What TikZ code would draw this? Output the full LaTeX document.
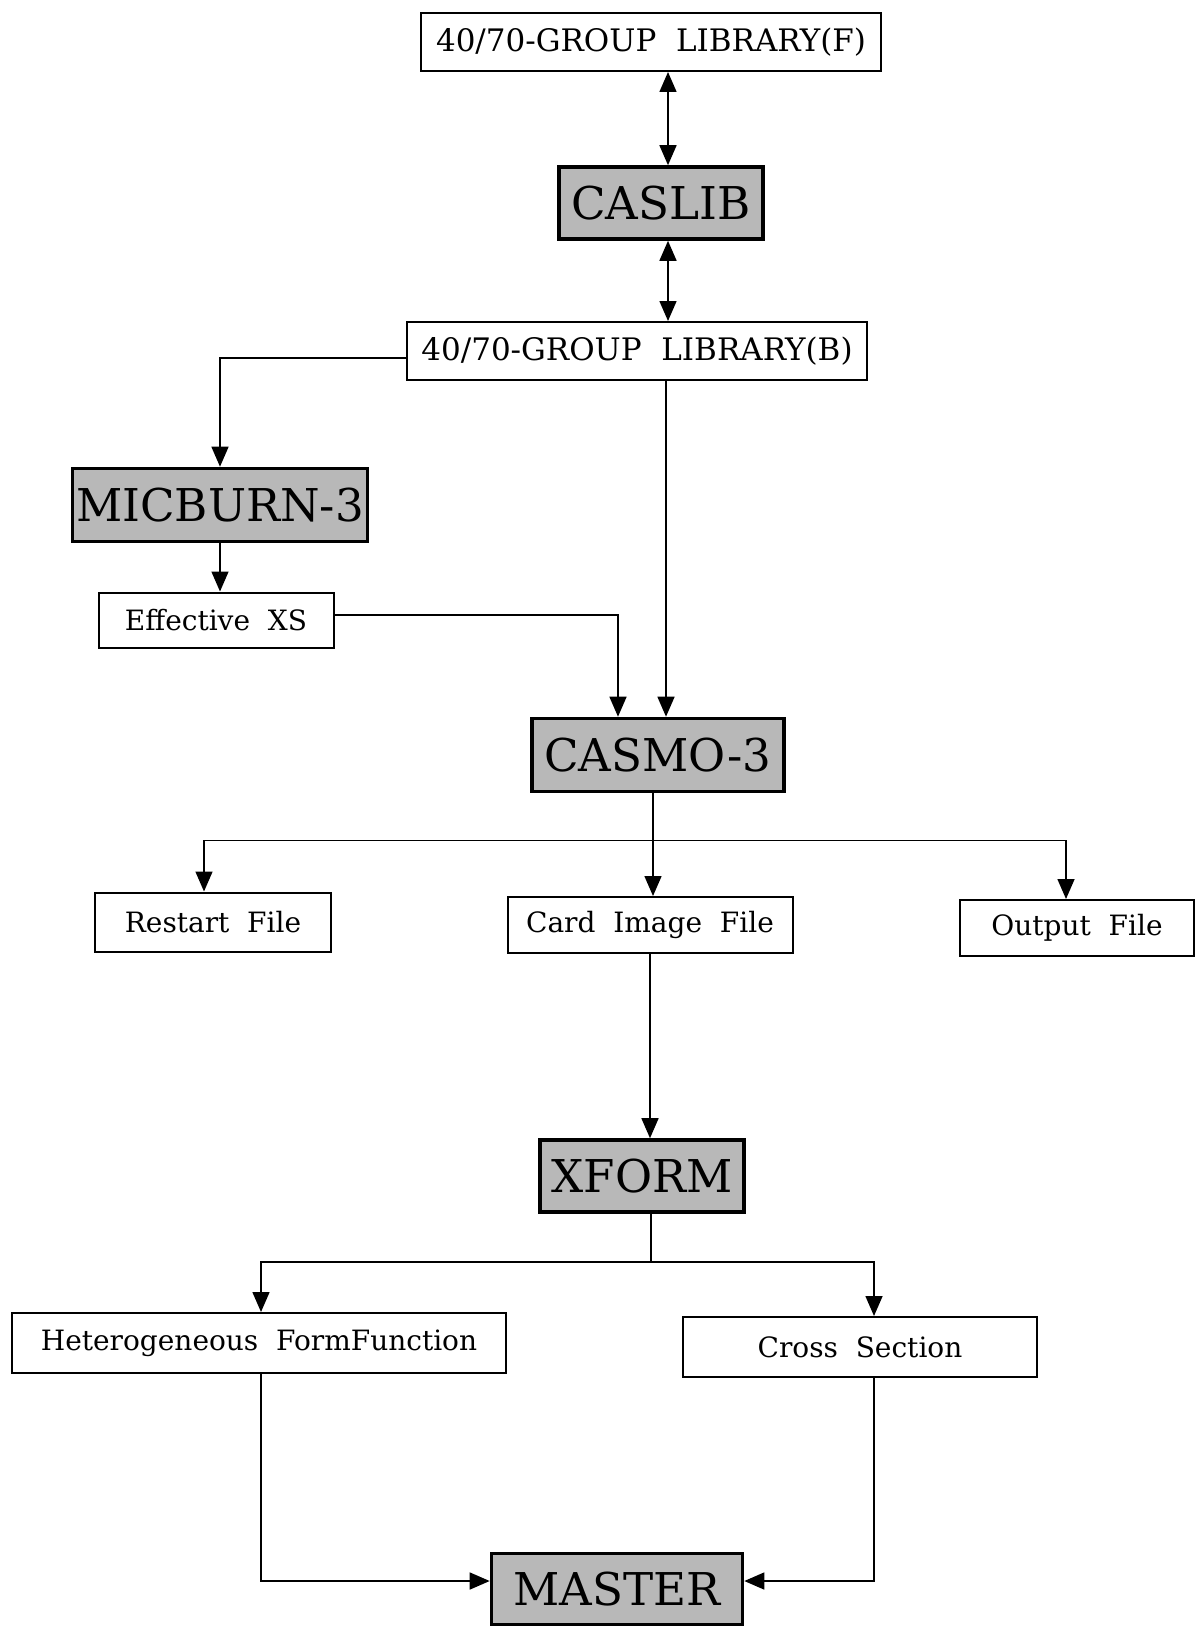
\documentclass[tikz,border=0pt]{standalone}
\usepackage{fontspec}
\setmainfont{DejaVu Serif}
\usetikzlibrary{arrows.meta}
\tikzstyle{arrow} = [line width=0.75pt,-{Triangle[length=10pt,width=8.5pt]}]
\tikzstyle{dblarrow} = [line width=0.75pt,{Triangle[length=10pt,width=8.5pt]}-{Triangle[length=10pt,width=8.5pt]}]
\tikzstyle{line} = [line width=0.75pt]

\begin{document}
\begin{tikzpicture}
        [
            x=0.5pt,y=-0.5pt,
            filebox/.style={rectangle,draw=black,line width=1pt,fill=white,inner sep=0pt,font=\fontsize{14}{16}\selectfont},
            libbox/.style={filebox,minimum width=230pt,minimum height=29pt,font=\fontsize{15.5}{18}\selectfont},
            progbox/.style={rectangle,draw=black,line width=1.8pt,fill=black!28,inner sep=0pt,font=\fontsize{22.6}{26}\selectfont},
        ]
    \useasboundingbox (0,0) rectangle (1197,1627);

    \node[libbox] (libF) at (651,42) {40/70-GROUP\ \ LIBRARY(F)};
    \node[progbox,minimum width=102pt,minimum height=36pt] (caslib) at (661,203) {CASLIB};
    \node[libbox] (libB) at (637,351) {40/70-GROUP\ \ LIBRARY(B)};
    \node[progbox,minimum width=147.5pt,minimum height=36.5pt] (micburn) at (220,505) {MICBURN-3};
    \node[filebox,minimum width=117.5pt,minimum height=27.5pt] (effxs) at (216,620) {Effective\ \ XS};
    \node[progbox,minimum width=126pt,minimum height=36.5pt] (casmo) at (658,755) {CASMO-3};
    \node[filebox,minimum width=118pt,minimum height=29.5pt] (restart) at (213,922) {Restart\ \ File};
    \node[filebox,minimum width=142.5pt,minimum height=28pt] (card) at (650,925) {Card\ \ Image\ \ File};
    \node[filebox,minimum width=117pt,minimum height=28pt] (output) at (1077,928) {Output\ \ File};
    \node[progbox,minimum width=102pt,minimum height=36pt] (xform) at (642,1176) {XFORM};
    \node[filebox,minimum width=247pt,minimum height=30pt] (hff) at (259,1343) {Heterogeneous\ \ FormFunction};
    \node[filebox,minimum width=177pt,minimum height=30pt] (cross) at (860,1347) {Cross\ \ Section};
    \node[progbox,minimum width=125.5pt,minimum height=35.5pt] (master) at (617,1589) {MASTER};

    \draw[dblarrow] ([xshift=3.5pt]caslib.north) -- ([xshift=3.5pt]caslib.north |- libF.south);
    \draw[dblarrow] ([xshift=3.5pt]caslib.south) -- ([xshift=3.5pt]caslib.south |- libB.north);
    \draw[arrow] ([yshift=-3.5pt]libB.west) -| (micburn.north);
    \draw[arrow] (micburn.south) -- (micburn.south |- effxs.north);
    \draw[arrow] ([yshift=2.5pt]effxs.east) -| ([xshift=-20pt]casmo.north);
    \draw[arrow] ([xshift=4pt]casmo.north |- libB.south) -- ([xshift=4pt]casmo.north);

    \draw[line] ([xshift=-2.5pt]casmo.south) -- ++(0,47) coordinate (casmosplit);
    \draw[arrow] (casmosplit) -| ([xshift=-4.5pt]restart.north);
    \draw[arrow] (casmosplit) -- (casmosplit |- card.north);
    \draw[arrow] (casmosplit) -| ([xshift=-5.5pt]output.north);
    \draw[arrow] (card.south) -- (card.south |- xform.north);

    \draw[line] ([xshift=4.5pt]xform.south) -- ++(0,48) coordinate (xformsplit);
    \draw[arrow] (xformsplit) -| ([xshift=1pt]hff.north);
    \draw[arrow] (xformsplit) -| ([xshift=7pt]cross.north);
    \draw[arrow] ([xshift=1pt]hff.south) |- ([yshift=4pt]master.west);
    \draw[arrow] ([xshift=7pt]cross.south) |- ([yshift=4pt]master.east);
    \end{tikzpicture}
\end{document}
